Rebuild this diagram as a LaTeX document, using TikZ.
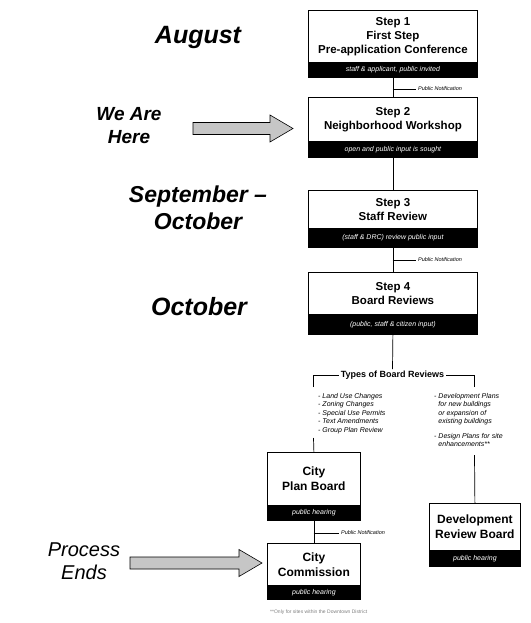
\documentclass[tikz,border=0pt]{standalone}
\usepackage{fontspec}
\setmainfont{Liberation Sans}
\begin{document}
\begin{tikzpicture}[x=1pt,y=-1pt]
\useasboundingbox[fill=white] (0,0) rectangle (530,623);
\tikzset{
 wbox/.style={draw, line width=0.8pt, fill=white, anchor=north west, inner sep=0pt, align=center, font=\bfseries\fontsize{11.5}{14}\selectfont},
 bband/.style={draw, line width=0.8pt, fill=black, text=white, anchor=north west, inner sep=0pt, align=center, font=\itshape\fontsize{7}{8}\selectfont},
 conn/.style={line width=0.7pt},
 note/.style={anchor=west, inner sep=0pt, font=\itshape\fontsize{5.5}{6}\selectfont},
 when/.style={align=center, inner sep=0pt, font=\bfseries\itshape\fontsize{25}{28}\selectfont},
 blist/.style={anchor=north west, inner sep=0pt, align=left, font=\itshape\fontsize{7}{8.5}\selectfont},
 bigarrow/.style={draw=black, line width=0.6pt, fill=gray!45},
}
% time labels
\node[when] (aug) at (198,37) {August};
\node[when, font=\bfseries\itshape\fontsize{19}{23}\selectfont] (here) at (129,126) {We Are\\Here};
\node[when, font=\bfseries\itshape\fontsize{23}{27}\selectfont] (sep) at (198,208) {September --\\October};
\node[when] (oct) at (199,307) {October};
\node[when, font=\itshape\fontsize{20}{23}\selectfont] (ends) at (84,561) {Process\\Ends};
% big arrows
\draw[bigarrow] (193,122.5) -- (270,122.5) -- (270,115) -- (293,128.5) -- (270,142) -- (270,134.5) -- (193,134.5) -- cycle;
\draw[bigarrow] (130,557) -- (239,557) -- (239,549.5) -- (262,563) -- (239,576.5) -- (239,569) -- (130,569) -- cycle;
% steps
\node[wbox, minimum width=169pt, minimum height=52pt] (s1) at (308,10) {Step 1\\First Step\\Pre-application Conference};
\node[bband, minimum width=169pt, minimum height=15pt] (s1b) at (308,62) {staff \& applicant, public invited};
\node[wbox, minimum width=169pt, minimum height=44pt] (s2) at (308,97) {Step 2\\Neighborhood Workshop};
\node[bband, minimum width=169pt, minimum height=16pt] (s2b) at (308,141) {open and public input is sought};
\node[wbox, minimum width=169pt, minimum height=38pt] (s3) at (308,190) {Step 3\\Staff Review};
\node[bband, minimum width=169pt, minimum height=19pt] (s3b) at (308,228) {(staff \& DRC) review public input};
\node[wbox, minimum width=169pt, minimum height=42pt] (s4) at (308,272) {Step 4\\Board Reviews};
\node[bband, minimum width=169pt, minimum height=20pt] (s4b) at (308,314) {(public, staff \& citizen input)};
\draw[conn] (s1b.south) -- (s2.north);
\draw[conn] (s2b.south) -- (s3.north);
\draw[conn] (s3b.south) -- (s4.north);
% public notifications
\coordinate (pn1) at (392.5,89);
\node[note] (pn1t) at (418,89) {Public Notification};
\draw[conn] (pn1) -- ([xshift=-2pt]pn1t.west);
\coordinate (pn2) at (392.5,260);
\node[note] (pn2t) at (418,260) {Public Notification};
\draw[conn] (pn2) -- ([xshift=-2pt]pn2t.west);
% types
\node[inner sep=1.5pt, font=\bfseries\fontsize{9}{10}\selectfont] (types) at (392.5,375) {Types of Board Reviews};
\draw[conn] (s4b.south) -- (types.north);
\coordinate (bl) at (313.5,387);
\coordinate (br) at (474.5,387);
\draw[conn] (bl) |- (types.west);
\draw[conn] (br) |- (types.east);
\node[blist] (ll) at (318,393) {- Land Use Changes\\- Zoning Changes\\- Special Use Permits\\- Text Amendments\\- Group Plan Review};
\node[blist] (rl) at (434,393) {- Development Plans\\\phantom{- }for new buildings\\\phantom{- }or expansion of\\\phantom{- }existing buildings\\[6pt]- Design Plans for site\\\phantom{- }enhancements**};
% city plan board
\node[wbox, minimum width=93pt, minimum height=53pt, font=\bfseries\fontsize{12}{15}\selectfont] (cpb) at (267,452) {City\\Plan Board};
\node[bband, minimum width=93pt, minimum height=15pt] (cpbb) at (267,505) {public hearing};
\coordinate (lt) at (313.5,438);
\draw[conn] (lt) -- (cpb.north);
% city commission
\node[wbox, minimum width=93pt, minimum height=42pt, font=\bfseries\fontsize{12}{15}\selectfont] (cc) at (267,543) {City\\Commission};
\node[bband, minimum width=93pt, minimum height=14pt] (ccb) at (267,585) {public hearing};
\draw[conn] (cpbb.south) -- (cc.north);
\coordinate (pn3) at (313.5,533);
\node[note] (pn3t) at (341,533) {Public Notification};
\draw[conn] (pn3) -- ([xshift=-2pt]pn3t.west);
% development review board
\node[wbox, minimum width=91pt, minimum height=47pt, font=\bfseries\fontsize{12}{15}\selectfont] (drb) at (429,503) {Development\\Review Board};
\node[bband, minimum width=91pt, minimum height=16pt] (drbb) at (429,550) {public hearing};
\coordinate (rt) at (474.5,455);
\draw[conn] (rt) -- (drb.north);
% footnote
\node[anchor=west, inner sep=0pt, text=gray, font=\fontsize{5}{6}\selectfont] (foot) at (270,612) {**Only for sites within the Downtown District};
\end{tikzpicture}
\end{document}
